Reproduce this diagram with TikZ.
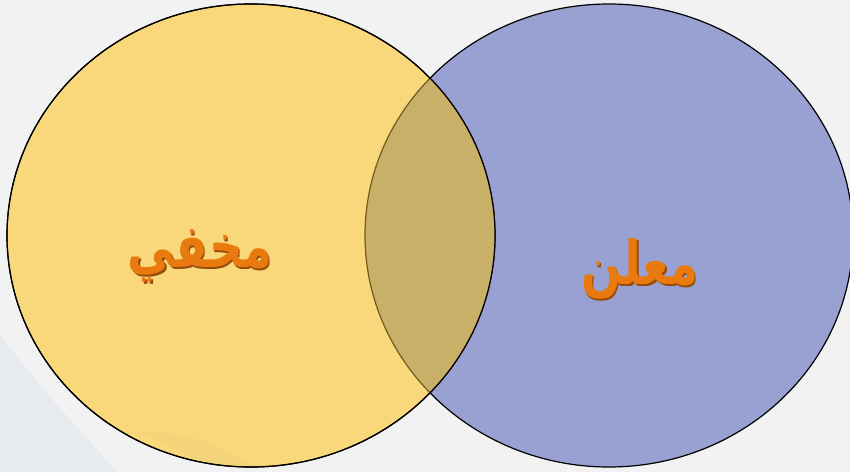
\documentclass[tikz,border=0pt]{standalone}
\usepackage{fontspec}
\newfontfamily\arabicfont[Script=Arabic]{DejaVu Sans}
\TeXXeTstate=1
\definecolor{bg}{RGB}{242,242,242}
\definecolor{swoosh}{RGB}{231,234,239}
\definecolor{yel}{RGB}{248,216,122}
\definecolor{yelband}{RGB}{240,210,120}
\definecolor{blu}{RGB}{152,161,209}
\definecolor{ovl}{RGB}{201,176,104}
\definecolor{ovledge}{RGB}{112,90,30}
\definecolor{txt}{RGB}{232,122,16}
\definecolor{txtshadow}{RGB}{150,75,10}
\tikzset{
  setcircle/.style={line width=1.2pt},
  wordshadow/.style={text=txtshadow, xscale=0.84, yscale=1.08, transform shape, font=\arabicfont\bfseries\fontsize{56}{60}\selectfont},
  word/.style={text=txt, xscale=0.84, yscale=1.08, transform shape, font=\arabicfont\bfseries\fontsize{56}{60}\selectfont},
}
\begin{document}
\begin{tikzpicture}[x=1pt,y=1pt]
\fill[bg] (0,0) rectangle (850,472);
\useasboundingbox (0,0) rectangle (850,472);
% swoosh at bottom-left
\fill[swoosh] (0,137) .. controls (40,85) and (80,40) .. (118,0) -- (0,0) -- cycle;
% blue set
\filldraw[fill=blu, setcircle] (609,236.5) ellipse [x radius=244, y radius=231.5];
% yellow set
\filldraw[fill=yel, setcircle] (251,236.5) ellipse [x radius=244, y radius=231.5];
% faint band inside yellow
\begin{scope}
\clip (251,236.5) ellipse [x radius=243, y radius=230.5];
\fill[yelband, opacity=0.6] (125,40) .. controls (180,45) and (230,25) .. (260,0) -- (200,0) .. controls (190,20) and (160,35) .. (125,40) -- cycle;
\end{scope}
% overlap
\begin{scope}
\clip (251,236.5) ellipse [x radius=244, y radius=231.5];
\fill[ovl] (609,236.5) ellipse [x radius=244, y radius=231.5];
\draw[ovledge, setcircle] (609,236.5) ellipse [x radius=244, y radius=231.5];
\end{scope}
\draw[setcircle] (251,236.5) ellipse [x radius=244, y radius=231.5];
% labels
\node[wordshadow] (hiddenS) at (201.5,214.5) {\beginR مخفي\endR};
\node[word] (hidden) at (200,216) {\beginR مخفي\endR};
\node[wordshadow] (openS) at (641.5,201.5) {\beginR معلن\endR};
\node[word] (open) at (640,203) {\beginR معلن\endR};
\end{tikzpicture}
\end{document}
